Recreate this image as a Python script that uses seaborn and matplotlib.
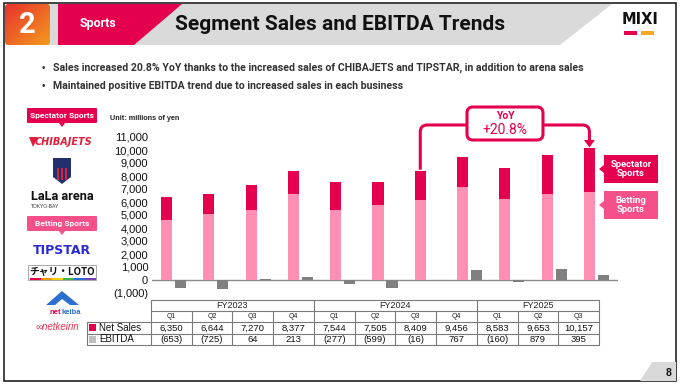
import numpy as np
import pandas as pd
import matplotlib
matplotlib.use("Agg")
import matplotlib.pyplot as plt
import seaborn as sns
from matplotlib.patches import Rectangle, Polygon, FancyBboxPatch, PathPatch
from matplotlib.path import Path

# ---- data ----
fiscal_years = ["FY2023"] * 4 + ["FY2024"] * 4 + ["FY2025"] * 3
quarters = ["Q1", "Q2", "Q3", "Q4", "Q1", "Q2", "Q3", "Q4", "Q1", "Q2", "Q3"]
net_sales = [6350, 6644, 7270, 8377, 7544, 7505, 8409, 9456, 8583, 9653, 10157]
betting_sales = [4600, 5100, 5400, 6650, 5400, 5750, 6150, 7150, 6250, 6600, 6750]
ebitda = [-653, -725, 64, 213, -277, -599, -16, 767, -160, 879, 395]
y_ticks = list(range(-1000, 11001, 1000))

CRIMSON = "#E5004F"
PINK_BAR = "#FF8FB3"
PINK_TAG = "#F5508A"
GRAY_BAR = "#808080"
W, H = 682, 387

sns.set_theme(style="white")
plt.rcParams["font.family"] = ["Liberation Sans", "DejaVu Sans"]

fig = plt.figure(figsize=(W / 100, H / 100), dpi=100)

# background axes in pixel coords (origin top-left)
bg = fig.add_axes([0, 0, 1, 1])
bg.set_xlim(0, W)
bg.set_ylim(H, 0)
bg.axis("off")


def fmt(v):
    return f"({abs(v):,})" if v < 0 else f"{v:,}"


# ---- frame + header ----
bg.add_patch(Rectangle((4, 3), 672, 378, fill=False, ec="#222222", lw=1.2))
bg.add_patch(Polygon([(40, 4), (612, 4), (560, 45), (40, 45)], closed=True,
                     fc="#DADADA", ec="none"))
bg.add_patch(Polygon([(58, 4), (182, 4), (134, 45), (58, 45)], closed=True,
                     fc=CRIMSON, ec="none"))
grad = np.linspace(0, 1, 64)
grad = (grad[None, :] + grad[:, None]) / 2
box2 = FancyBboxPatch((5, 4), 45, 41, boxstyle="round,pad=0,rounding_size=3",
                      fc="none", ec="none")
bg.add_patch(box2)
im = bg.imshow(grad, cmap=matplotlib.colors.LinearSegmentedColormap.from_list(
    "h", ["#E8322E", "#F39A1C"]), extent=(5, 50, 45, 4), aspect="auto", zorder=1)
im.set_clip_path(box2)
bg.text(27.5, 25, "2", color="white", fontsize=21, fontweight="bold",
        ha="center", va="center", family="Roboto", zorder=2)
bg.text(98, 24, "Sports", color="white", fontsize=9, fontweight="bold",
        ha="center", va="center", family="Roboto")
bg.text(340, 25, "Segment Sales and EBITDA Trends", color="#111111", fontsize=15,
        fontweight="bold", ha="center", va="center", family="Roboto")
bg.text(640, 20, "MIXI", color="#111111", fontsize=10.5, fontweight="heavy",
        ha="center", va="center", family="DejaVu Sans")
bg.add_patch(Rectangle((624, 31), 13, 4, fc=CRIMSON, ec="none"))
bg.add_patch(Rectangle((641, 31), 13, 4, fc="#F5A623", ec="none"))

# ---- bullets ----
bullets = ["Sales increased 20.8% YoY thanks to the increased sales of CHIBAJETS and TIPSTAR, in addition to arena sales",
           "Maintained positive EBITDA trend due to increased sales in each business"]
for yy, txt in zip([68, 86], bullets):
    bg.text(43, yy, "•", fontsize=7, color="#333333", ha="center", va="center")
    bg.text(53, yy, txt, fontsize=7.6, color="#333333", fontweight="bold",
            ha="left", va="center", family="Roboto")


# ---- left logo column ----
def tag(y0, label, color):
    bg.add_patch(FancyBboxPatch((27, y0), 70, 15, boxstyle="round,pad=0,rounding_size=1",
                                fc=color, ec="none"))
    bg.add_patch(Polygon([(59, y0 + 15), (65, y0 + 15), (62, y0 + 19)], fc=color, ec="none"))
    bg.text(62, y0 + 7.5, label, color="white", fontsize=6, fontweight="bold",
            ha="center", va="center", family="Roboto")


tag(108, "Spectator Sports", CRIMSON)
bg.add_patch(Polygon([(29, 137), (38, 137), (33, 147)], fc="#E0203A", ec="none"))
bg.text(63, 142, "CHIBAJETS", color="#E0203A", fontsize=7, fontweight="bold",
        style="italic", ha="center", va="center", family="DejaVu Sans")
bg.add_patch(Polygon([(53, 158), (71, 158), (71, 177), (62, 184), (53, 177)],
                     fc="#23306E", ec="none"))
for sx in (57, 61, 65):
    bg.add_patch(Rectangle((sx, 168), 2, 12, fc="#D6223A", ec="none"))
bg.text(62, 197, "LaLa arena", color="#111111", fontsize=9.2, fontweight="bold",
        ha="center", va="center", family="Roboto")
bg.text(31, 207, "TOKYO-BAY", color="#333333", fontsize=3.6, ha="left", va="center")
tag(216, "Betting Sports", PINK_TAG)
bg.text(62, 251, "TIPSTAR", color="#2B2BCF", fontsize=9, fontweight="bold",
        ha="center", va="center", family="DejaVu Sans")
bg.add_patch(Rectangle((28, 265), 68, 15, fc="white", ec="#999999", lw=0.6))
bg.text(62, 271.5, "チャリ・LOTO", color="#111111", fontsize=7, fontweight="bold",
        ha="center", va="center", family=["Noto Sans CJK JP", "DejaVu Sans"])
for k, c in enumerate(["#E5004F", "#F39800", "#F5D000", "#3CB44B", "#2B6BD6", "#7B3FB5"]):
    bg.add_patch(Rectangle((30 + k * 11, 278), 11, 1.5, fc=c, ec="none"))
bg.add_patch(Polygon([(46, 305), (62, 291), (79, 305), (70, 305), (62, 299), (55, 305)],
                     fc="#2C6FD1", ec="none"))
bg.text(61, 312, "net", color="#E5004F", fontsize=5.5, fontweight="bold", ha="right", va="center")
bg.text(61, 312, "keiba", color="#2C6FD1", fontsize=5.5, fontweight="bold", ha="left", va="center")
bg.text(57, 327, "∞netkeirin", color="#E5304F", fontsize=7, style="italic",
        ha="center", va="center")

# ---- chart axes ----
ax_l, ax_r, ax_t, ax_b = 152.4, 617.6, 130, 298
px_per_unit = 13 / 1000  # 0 at y=280, 11,000 at y=137
ylim = (-(ax_b - 280) / px_per_unit, (280 - ax_t) / px_per_unit)
ax = fig.add_axes([ax_l / W, 1 - ax_b / H, (ax_r - ax_l) / W, (ax_b - ax_t) / H])
ax.set_facecolor("none")

periods = [f"{fy} {q}" for fy, q in zip(fiscal_years, quarters)]
df = pd.DataFrame({"period": periods * 2,
                   "series": ["Net Sales"] * 11 + ["EBITDA"] * 11,
                   "value": net_sales + ebitda})
df_bet = pd.DataFrame({"period": periods, "series": "Net Sales", "value": betting_sales})
kw = dict(x="period", y="value", hue="series", order=periods,
          hue_order=["Net Sales", "EBITDA"], width=0.66, gap=0.2, dodge=True,
          errorbar=None, saturation=1, linewidth=0, legend=False, ax=ax)
sns.barplot(data=df, palette={"Net Sales": CRIMSON, "EBITDA": GRAY_BAR}, **kw)
sns.barplot(data=df_bet, palette={"Net Sales": PINK_BAR, "EBITDA": GRAY_BAR}, **kw)

ax.set_xlim(-0.5, 10.5)
ax.set_ylim(*ylim)
ax.axhline(0, color="#8C8C8C", lw=1, zorder=0.5)
for s in ax.spines.values():
    s.set_visible(False)
ax.set_xticks([])
ax.set_xlabel("")
ax.set_ylabel("")
ax.set_yticks(y_ticks)
ax.set_yticklabels([fmt(v) for v in y_ticks], fontsize=8, color="#111111")
ax.tick_params(axis="y", length=0, pad=3)
ax.grid(False)
bg.text(110, 118, "Unit: millions of yen", fontsize=5.2, fontweight="bold",
        color="#222222", ha="left", va="center")


def to_px(x, y):
    X, Y = ax.transData.transform((x, y))
    return X, H - Y


# ---- YoY callout ----
off = 0.166
x0, y0 = to_px(6 - off, net_sales[6])
x1, y1 = to_px(10 - off, net_sales[10])
yc, r = 125, 7
bx0, bx1, by0, by1 = 467, 543, 107, 140
lw_c = 2.2
left = Path([(x0, y0 - 1), (x0, yc + r), (x0, yc), (x0 + r, yc), (bx0, yc)],
            [Path.MOVETO, Path.LINETO, Path.CURVE3, Path.CURVE3, Path.LINETO])
right = Path([(bx1, yc), (x1 - r, yc), (x1, yc), (x1, yc + r), (x1, y1 - 7)],
             [Path.MOVETO, Path.LINETO, Path.CURVE3, Path.CURVE3, Path.LINETO])
for p in (left, right):
    bg.add_patch(PathPatch(p, fc="none", ec=CRIMSON, lw=lw_c, zorder=5,
                           capstyle="butt"))
bg.add_patch(Polygon([(x1 - 5.5, y1 - 8), (x1 + 5.5, y1 - 8), (x1, y1 - 0.5)],
                     fc=CRIMSON, ec="none", zorder=5))
bg.add_patch(FancyBboxPatch((bx0, by0), bx1 - bx0, by1 - by0,
                            boxstyle="round,pad=0,rounding_size=6",
                            fc="white", ec=CRIMSON, lw=lw_c, zorder=5))
bg.text((bx0 + bx1) / 2, 116, "YoY", color=CRIMSON, fontsize=7.5, fontweight="bold",
        ha="center", va="center", family="Roboto", zorder=6)
bg.text((bx0 + bx1) / 2, 130, "+20.8%", color=CRIMSON, fontsize=10,
        ha="center", va="center", family="Roboto", zorder=6)


# ---- right tags ----
def side_tag(y0, label, color):
    bg.add_patch(Rectangle((604, y0), 54, 28, fc=color, ec="none"))
    bg.add_patch(Polygon([(604, y0 + 10), (604, y0 + 18), (599, y0 + 14)], fc=color, ec="none"))
    bg.text(631, y0 + 14, label, color="white", fontsize=6.8, fontweight="bold",
            ha="center", va="center", family="Roboto", linespacing=1.1)


side_tag(155, "Spectator\nSports", CRIMSON)
side_tag(191, "Betting\nSports", PINK_TAG)

# ---- table ----
tl, tr = 151, 599
cw = (tr - tl) / 11
rows = [300, 311, 322, 333.5, 345]
lc = "#7A7A7A"
for yy in rows:
    x_start = 87 if yy >= 322 else tl
    bg.plot([x_start, tr], [yy, yy], color=lc, lw=0.8)
for k in range(12):
    xx = tl + k * cw
    top = 300 if k in (0, 4, 8, 11) else 311
    bg.plot([xx, xx], [top, 345], color=lc, lw=0.8)
bg.plot([87, 87], [322, 345], color=lc, lw=0.8)
for fy in ["FY2023", "FY2024", "FY2025"]:
    idx = [k for k, f in enumerate(fiscal_years) if f == fy]
    cx = tl + (idx[0] + idx[-1] + 1) / 2 * cw
    bg.text(cx, 305.5, fy, fontsize=6.5, color="#222222", ha="center", va="center")
for k in range(11):
    cx = tl + (k + 0.5) * cw
    bg.text(cx, 316.5, quarters[k], fontsize=5, color="#222222", ha="center", va="center")
    bg.text(cx, 328, fmt(net_sales[k]), fontsize=6.8, color="#111111", ha="center", va="center")
    bg.text(cx, 339.5, fmt(ebitda[k]), fontsize=6.8, color="#111111", ha="center", va="center")
bg.add_patch(Rectangle((89, 324), 7, 7, fc=CRIMSON, ec="none"))
bg.add_patch(Rectangle((89, 335.5), 7, 7, fc="#BFBFBF", ec="none"))
bg.text(99, 328, "Net Sales", fontsize=7, color="#111111", ha="left", va="center")
bg.text(99, 339.5, "EBITDA", fontsize=7, color="#111111", ha="left", va="center")

# ---- page number ----
bg.add_patch(Polygon([(640, 381), (676, 381), (676, 362), (652, 362)],
                     fc="#D9D9D9", ec="none"))
bg.text(669, 373, "8", fontsize=7.5, fontweight="bold", color="#111111",
        ha="center", va="center")

fig.savefig("out.png", dpi=100)
